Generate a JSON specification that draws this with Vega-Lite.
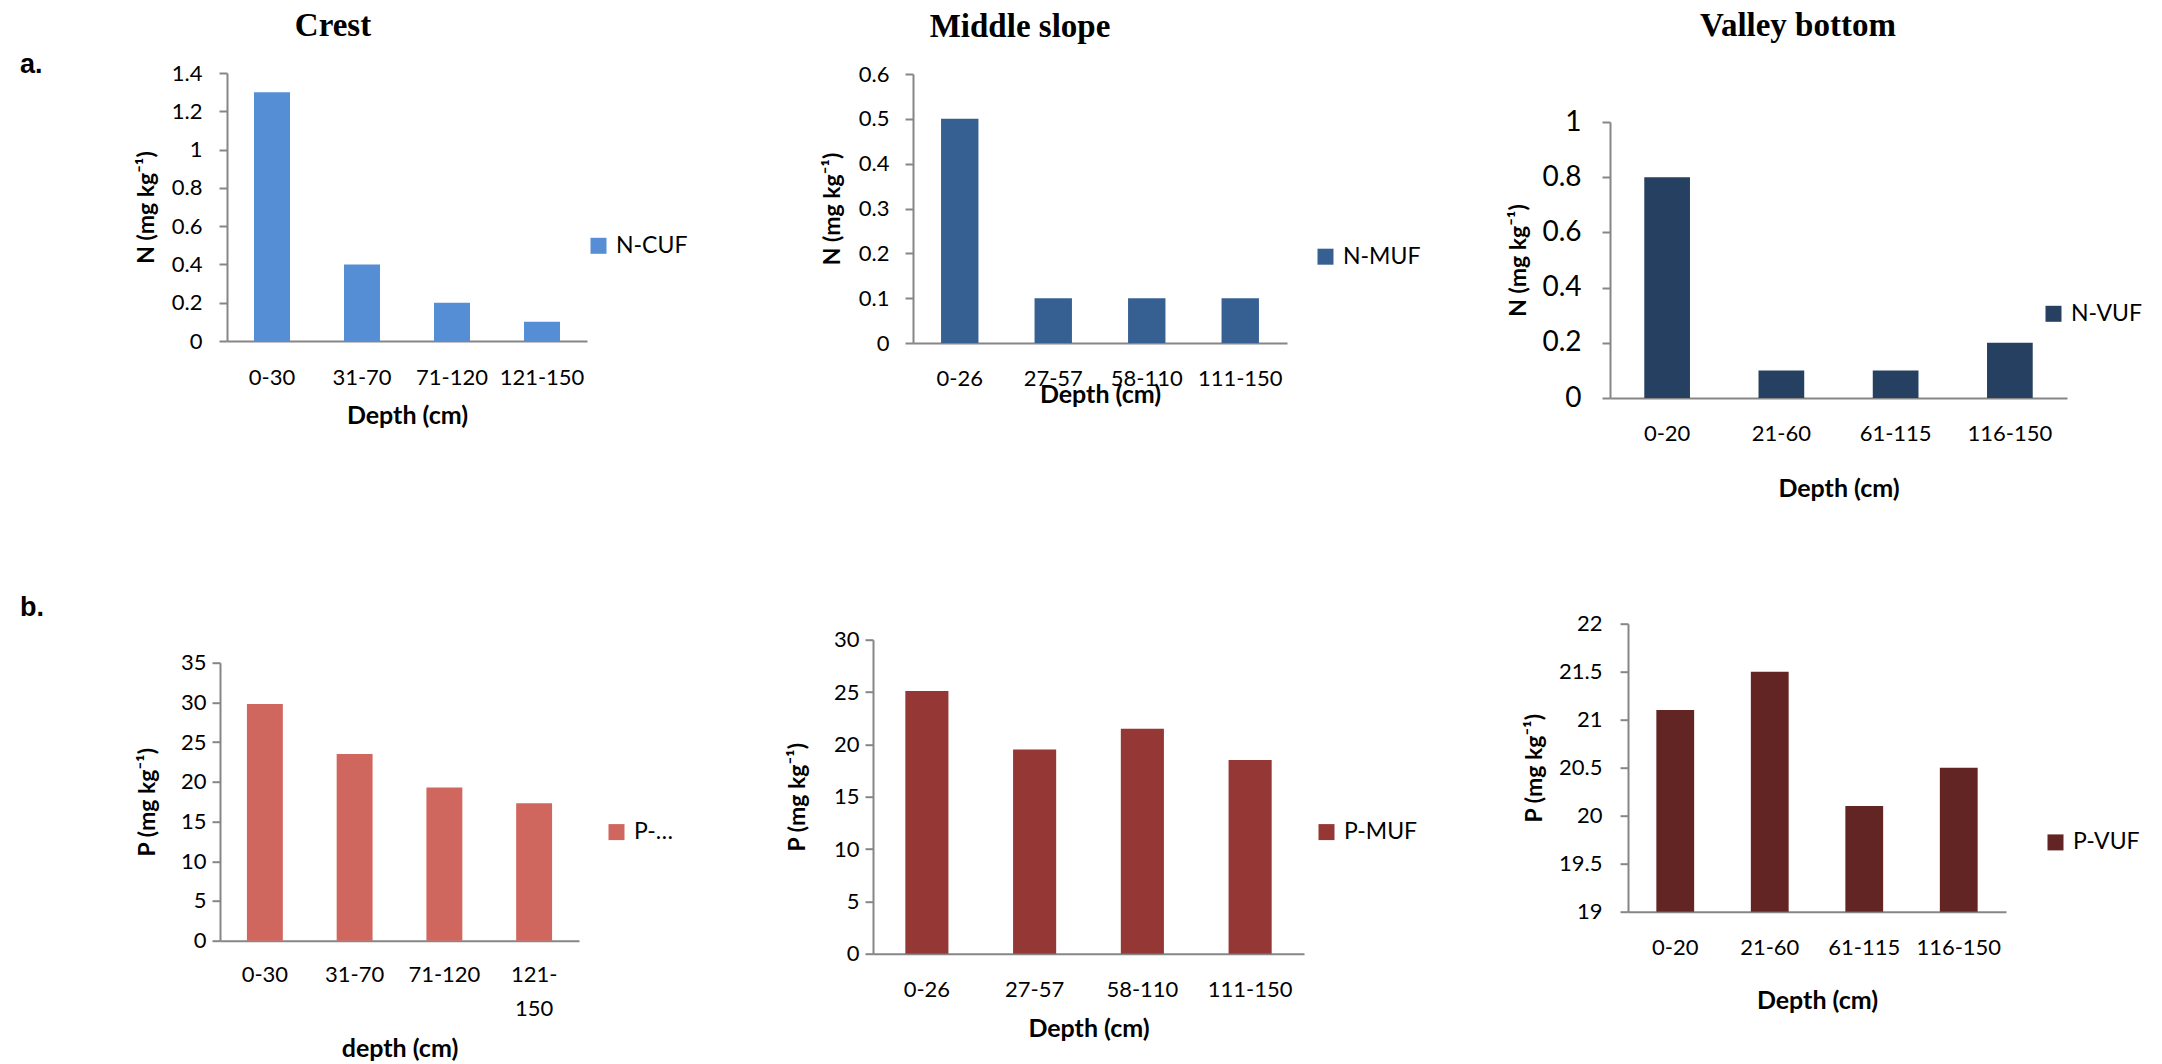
{
  "$schema": "https://vega.github.io/schema/vega-lite/v6.json",
  "background": "white",
  "padding": {"left": 20, "top": 9, "right": 0, "bottom": 0},
  "spacing": 90.7,
  "resolve": {"scale": {"color": "independent", "x": "independent", "y": "independent"}, "legend": {"color": "independent"}},
  "vconcat": [
    {
      "columns": 4,
      "align": "none",
      "bounds": "full",
      "spacing": {"row": 0, "column": 70},
      "resolve": {"scale": {"color": "independent", "x": "independent", "y": "independent"}, "legend": {"color": "independent"}},
      "concat": [
        {"width": 1, "height": 1, "data": {"values": []}, "mark": "point"},
        {"width": 1, "height": 1, "data": {"values": []}, "mark": "point"},
        {"width": 1, "height": 1, "data": {"values": []}, "mark": "point"},
        {"width": 1, "height": 1, "data": {"values": []}, "mark": "point"},
        {
          "width": 44.5, "height": 42, "data": {"values": []}, "mark": "point",
          "title": {"text": "a.", "orient": "bottom", "anchor": "start", "frame": "group", "align": "left", "baseline": "top", "offset": 0, "font": "Liberation Sans", "fontSize": 27, "fontWeight": "bold"}
        },
        {
          "width": 360, "height": 268,
          "title": {"text": "Crest", "dx": -74, "offset": 18.7},
          "data": {"values": [
            {"depth": "0-30", "value": 1.3, "series": "N-CUF"},
            {"depth": "31-70", "value": 0.4, "series": "N-CUF"},
            {"depth": "71-120", "value": 0.2, "series": "N-CUF"},
            {"depth": "121-150", "value": 0.1, "series": "N-CUF"}
          ]},
          "mark": {"type": "bar"},
          "encoding": {
            "x": {"field": "depth", "type": "nominal", "sort": null, "scale": {"paddingInner": 0.6, "paddingOuter": 0.3}, "axis": {"title": "Depth (cm)", "labelPadding": 26.5, "titlePadding": 15}},
            "y": {"field": "value", "type": "quantitative", "scale": {"domain": [0, 1.4], "nice": false, "zero": true}, "axis": {"title": "N (mg kg⁻¹)", "values": [0, 0.2, 0.4, 0.6, 0.8, 1, 1.2, 1.4], "format": "~g", "labelPadding": 17, "titlePadding": 12.4}},
            "color": {"field": "series", "type": "nominal", "scale": {"range": ["#558ED5"]}, "legend": {"title": null, "orient": "none", "legendX": 297, "legendY": 98.3, "padding": 63}}
          }
        },
        {
          "width": 374, "height": 269,
          "title": {"text": "Middle slope", "dx": -80, "offset": 19.3},
          "data": {"values": [
            {"depth": "0-26", "value": 0.5, "series": "N-MUF"},
            {"depth": "27-57", "value": 0.1, "series": "N-MUF"},
            {"depth": "58-110", "value": 0.1, "series": "N-MUF"},
            {"depth": "111-150", "value": 0.1, "series": "N-MUF"}
          ]},
          "mark": {"type": "bar"},
          "encoding": {
            "x": {"field": "depth", "type": "nominal", "sort": null, "scale": {"paddingInner": 0.6, "paddingOuter": 0.3}, "axis": {"title": "Depth (cm)", "labelPadding": 25.5, "titlePadding": -7.5}},
            "y": {"field": "value", "type": "quantitative", "scale": {"domain": [0, 0.6], "nice": false}, "axis": {"title": "N (mg kg⁻¹)", "values": [0, 0.1, 0.2, 0.3, 0.4, 0.5, 0.6], "format": "~g", "labelPadding": 16, "titlePadding": 13.4}},
            "color": {"field": "series", "type": "nominal", "scale": {"range": ["#376092"]}, "legend": {"title": null, "orient": "none", "legendX": 385, "legendY": 155.2, "padding": 16}}
          }
        },
        {
          "width": 457, "height": 276,
          "title": {"text": "Valley bottom", "dx": -40.5, "offset": 64.7},
          "data": {"values": [
            {"depth": "0-20", "value": 0.8, "series": "N-VUF"},
            {"depth": "21-60", "value": 0.1, "series": "N-VUF"},
            {"depth": "61-115", "value": 0.1, "series": "N-VUF"},
            {"depth": "116-150", "value": 0.2, "series": "N-VUF"}
          ]},
          "mark": {"type": "bar"},
          "encoding": {
            "x": {"field": "depth", "type": "nominal", "sort": null, "scale": {"paddingInner": 0.6, "paddingOuter": 0.3}, "axis": {"title": "Depth (cm)", "labelPadding": 25.5, "titlePadding": 32}},
            "y": {"field": "value", "type": "quantitative", "scale": {"domain": [0, 1], "nice": false}, "axis": {"title": "N (mg kg⁻¹)", "values": [0, 0.2, 0.4, 0.6, 0.8, 1], "format": "~g", "labelFontSize": 28, "labelPadding": 21, "titlePadding": 11.1}},
            "color": {"field": "series", "type": "nominal", "scale": {"range": ["#254061"]}, "legend": {"title": null, "orient": "none", "legendX": 432, "legendY": 180.3, "padding": 0}}
          }
        }
      ]
    },
    {
      "columns": 4,
      "align": "none",
      "bounds": "full",
      "spacing": {"row": 0, "column": 92},
      "resolve": {"scale": {"color": "independent", "x": "independent", "y": "independent"}, "legend": {"color": "independent"}},
      "concat": [
        {"width": 1, "height": 1, "data": {"values": []}, "mark": "point"},
        {"width": 1, "height": 1, "data": {"values": []}, "mark": "point"},
        {"width": 1, "height": 1, "data": {"values": []}, "mark": "point"},
        {"width": 1, "height": 1, "data": {"values": []}, "mark": "point"},
        {
          "width": 1, "height": 1, "data": {"values": []}, "mark": "point",
          "title": {"text": "b.", "orient": "bottom", "anchor": "start", "frame": "group", "align": "left", "baseline": "top", "offset": 0, "font": "Liberation Sans", "fontSize": 27, "fontWeight": "bold"}
        },
        {
          "width": 359, "height": 278,
          "title": {"text": " ", "fontSize": 1, "offset": 56.3},
          "data": {"values": [
            {"depth": "0-30", "value": 29.8, "series": "P-CUF"},
            {"depth": "31-70", "value": 23.5, "series": "P-CUF"},
            {"depth": "71-120", "value": 19.3, "series": "P-CUF"},
            {"depth": "121-150", "value": 17.3, "series": "P-CUF"}
          ]},
          "mark": {"type": "bar"},
          "encoding": {
            "x": {"field": "depth", "type": "nominal", "sort": null, "scale": {"paddingInner": 0.6, "paddingOuter": 0.3}, "axis": {"title": "depth (cm)", "labelPadding": 23.5, "labelLineHeight": 34, "labelExpr": "datum.label == '121-150' ? ['121-', '150'] : datum.label", "titlePadding": 17.7}},
            "y": {"field": "value", "type": "quantitative", "scale": {"domain": [0, 35], "nice": false}, "axis": {"title": "P (mg kg⁻¹)", "values": [0, 5, 10, 15, 20, 25, 30, 35], "format": "~g", "labelPadding": 6, "titlePadding": 20.5}},
            "color": {"field": "series", "type": "nominal", "scale": {"range": ["#D0675F"]}, "legend": {"title": null, "orient": "none", "legendX": 365, "legendY": 137.9, "padding": 20, "labelExpr": "'P-…'"}}
          }
        },
        {
          "width": 431, "height": 314,
          "title": {"text": " ", "fontSize": 1, "offset": 33.3},
          "data": {"values": [
            {"depth": "0-26", "value": 25.1, "series": "P-MUF"},
            {"depth": "27-57", "value": 19.5, "series": "P-MUF"},
            {"depth": "58-110", "value": 21.5, "series": "P-MUF"},
            {"depth": "111-150", "value": 18.5, "series": "P-MUF"}
          ]},
          "mark": {"type": "bar"},
          "encoding": {
            "x": {"field": "depth", "type": "nominal", "sort": null, "scale": {"paddingInner": 0.6, "paddingOuter": 0.3}, "axis": {"title": "Depth (cm)", "labelPadding": 25.5, "titlePadding": 16.4}},
            "y": {"field": "value", "type": "quantitative", "scale": {"domain": [0, 30], "nice": false}, "axis": {"title": "P (mg kg⁻¹)", "values": [0, 5, 10, 15, 20, 25, 30], "format": "~g", "labelPadding": 6, "titlePadding": 23.5}},
            "color": {"field": "series", "type": "nominal", "scale": {"range": ["#953735"]}, "legend": {"title": null, "orient": "none", "legendX": 429, "legendY": 167.9, "padding": 13}}
          }
        },
        {
          "width": 378, "height": 288,
          "title": {"text": " ", "fontSize": 1, "offset": 17.3},
          "data": {"values": [
            {"depth": "0-20", "value": 21.1, "series": "P-VUF"},
            {"depth": "21-60", "value": 21.5, "series": "P-VUF"},
            {"depth": "61-115", "value": 20.1, "series": "P-VUF"},
            {"depth": "116-150", "value": 20.5, "series": "P-VUF"}
          ]},
          "mark": {"type": "bar"},
          "encoding": {
            "x": {"field": "depth", "type": "nominal", "sort": null, "scale": {"paddingInner": 0.6, "paddingOuter": 0.3}, "axis": {"title": "Depth (cm)", "labelPadding": 25.5, "titlePadding": 30}},
            "y": {"field": "value", "type": "quantitative", "scale": {"domain": [19, 22], "nice": false, "zero": false}, "axis": {"title": "P (mg kg⁻¹)", "values": [19, 19.5, 20, 20.5, 21, 21.5, 22], "format": "~g", "labelPadding": 18, "titlePadding": 11.6}},
            "y2": {"datum": 19},
            "color": {"field": "series", "type": "nominal", "scale": {"range": ["#632523"]}, "legend": {"title": null, "orient": "none", "legendX": 416, "legendY": 207.2, "padding": 0}}
          }
        }
      ]
    }
  ],
  "config": {
    "font": "Lato",
    "view": {"stroke": null},
    "axis": {"domainColor": "#868686", "domainWidth": 2, "tickColor": "#868686", "tickWidth": 2, "tickSize": 8, "labelFont": "Lato", "labelFontSize": 22, "labelColor": "#000000", "titleFont": "Lato", "titleFontSize": 23, "titleFontWeight": "bold", "titleColor": "#000000", "grid": false},
    "axisX": {"ticks": false, "tickSize": 0, "labelAngle": 0, "titleFontSize": 25},
    "legend": {"labelFont": "Lato", "labelFontSize": 23, "labelColor": "#000000", "symbolType": "square", "symbolSize": 256, "symbolStrokeWidth": 0, "labelOffset": 6},
    "title": {"font": "Liberation Serif", "fontSize": 33, "fontWeight": "bold", "color": "#000000", "anchor": "middle", "frame": "group", "baseline": "bottom"}
  }
}
